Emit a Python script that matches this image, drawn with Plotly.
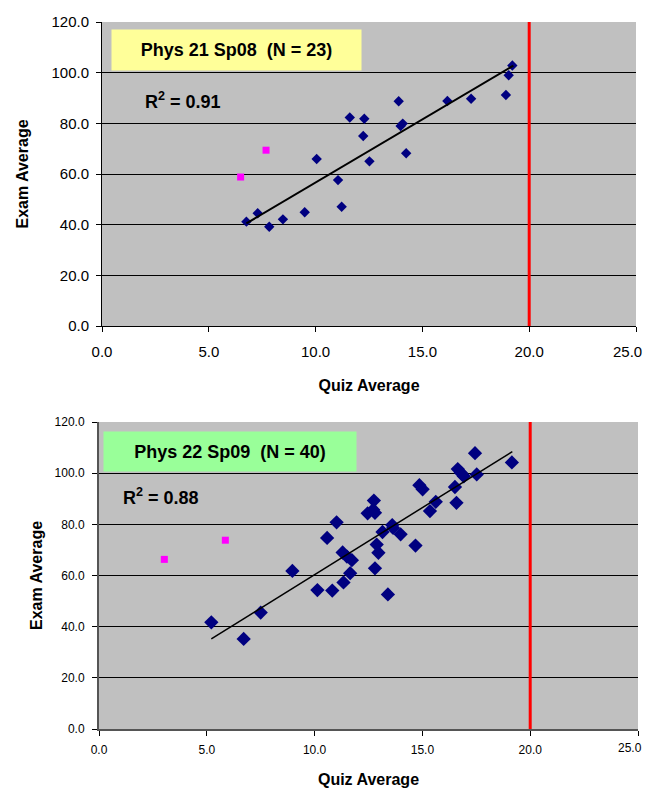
import plotly.graph_objects as go

# Phys 21 Sp08 -- regular students (blue diamonds) and two outliers (pink squares)
quiz21 = [19.21, 19.04, 18.91, 17.28, 16.17, 13.89, 11.60, 12.28, 12.23, 14.08,
          13.98, 14.24, 12.52, 10.05, 11.05, 11.22, 9.49, 8.47, 7.83, 7.29, 6.76]
exam21 = [102.8, 99.0, 91.2, 89.7, 88.8, 88.7, 82.3, 81.8, 75.0, 79.9,
          78.9, 68.2, 65.0, 65.9, 57.6, 47.1, 44.9, 42.1, 39.2, 44.5, 41.2]
quiz21_out = [7.68, 6.49]
exam21_out = [69.4, 58.8]
trend21_x = [6.76, 19.26]
trend21_y = [40.5, 102.8]

# Phys 22 Sp09
quiz22 = [17.44, 19.15, 16.64, 16.78, 16.92, 17.52, 14.86, 15.01, 16.51, 16.58,
          15.62, 15.35, 12.75, 12.72, 12.46, 12.80, 11.02, 10.58, 13.60, 13.64,
          13.15, 13.99, 14.68, 12.88, 12.96, 11.30, 11.50, 11.73, 12.80, 11.65,
          8.97, 11.34, 10.13, 10.82, 13.40, 7.50, 5.21, 6.71]
exam22 = [107.8, 104.2, 101.6, 100.2, 98.8, 99.5, 95.3, 93.7, 94.6, 88.4,
          88.8, 85.2, 89.3, 85.7, 84.3, 84.5, 80.8, 74.7, 79.7, 78.6,
          77.0, 76.1, 71.7, 72.1, 68.9, 69.0, 67.4, 66.0, 62.8, 60.9,
          61.8, 57.3, 54.3, 54.1, 52.6, 45.5, 41.7, 35.2]
quiz22_out = [5.86, 3.03]
exam22_out = [73.8, 66.3]
trend22_x = [5.21, 19.17]
trend22_y = [35.2, 108.4]

x_ticks = [0, 5, 10, 15, 20, 25]
y_ticks = [0, 20, 40, 60, 80, 100, 120]
cutoff = 20

FONT = "Liberation Sans, Arial, sans-serif"
NARROW = "Liberation Sans Narrow, Arial Narrow, Liberation Sans, sans-serif"

# page has an 8px body margin
PAD = 8
W, H = 652 - PAD, 796 - 2 * PAD


def fx(px):
    return (px - PAD) / W


def fy(py):
    return 1 - (py - PAD) / H


# last x tick label is drawn separately (nudged left so it isn't clipped at the page edge)
x_ticktext = [f"{v:.1f}" for v in x_ticks[:-1]] + [""]

fig = go.Figure()

# top chart
fig.add_trace(go.Scatter(x=quiz21, y=exam21, mode="markers", xaxis="x", yaxis="y",
                         marker=dict(symbol="diamond", size=8, color="#000080")))
fig.add_trace(go.Scatter(x=quiz21_out, y=exam21_out, mode="markers", xaxis="x", yaxis="y",
                         marker=dict(symbol="square", size=7, color="#FF00FF")))
fig.add_trace(go.Scatter(x=trend21_x, y=trend21_y, mode="lines", xaxis="x", yaxis="y",
                         line=dict(color="black", width=2)))

# bottom chart
fig.add_trace(go.Scatter(x=quiz22, y=exam22, mode="markers", xaxis="x2", yaxis="y2",
                         marker=dict(symbol="diamond", size=11, color="#000080")))
fig.add_trace(go.Scatter(x=quiz22_out, y=exam22_out, mode="markers", xaxis="x2", yaxis="y2",
                         marker=dict(symbol="square", size=7, color="#FF00FF")))
fig.add_trace(go.Scatter(x=trend22_x, y=trend22_y, mode="lines", xaxis="x2", yaxis="y2",
                         line=dict(color="black", width=1.5)))

axis_common = dict(showgrid=False, zeroline=False, ticks="outside", automargin=False,
                   ticklen=5, tickcolor="black", mirror=False, tickformat=".1f",
                   ticklabeloverflow="allow")

fig.update_layout(
    width=W, height=H,
    margin=dict(l=0, r=0, t=0, b=0),
    paper_bgcolor="white", plot_bgcolor="#C0C0C0",
    showlegend=False,
    font=dict(family=FONT, color="black"),
    xaxis=dict(axis_common, domain=[fx(102), fx(636)], range=[0, 25],
               tickvals=x_ticks, ticktext=x_ticktext,
               anchor="y", showline=True, linecolor="black", linewidth=1,
               tickfont=dict(size=15, family=FONT), ticklabelstandoff=7,
               title=dict(text="<b>Quiz Average</b>", font=dict(size=16), standoff=20)),
    yaxis=dict(axis_common, domain=[fy(326), fy(22)], range=[0, 120], tickvals=y_ticks,
               anchor="x", showline=True, linecolor="black", linewidth=1,
               showgrid=True, gridcolor="black", gridwidth=1,
               tickfont=dict(size=15, family=FONT), ticklabelstandoff=4,
               title=dict(text="<b>Exam Average</b>", font=dict(size=16), standoff=18)),
    xaxis2=dict(axis_common, domain=[fx(99), fx(638)], range=[0, 25],
                tickvals=x_ticks, ticktext=x_ticktext,
                anchor="y2", showline=True, linecolor="#555555", linewidth=2,
                tickfont=dict(size=12, family=NARROW), ticklabelstandoff=4,
                title=dict(text="<b>Quiz Average</b>", font=dict(size=16), standoff=28)),
    yaxis2=dict(axis_common, domain=[fy(729), fy(422)], range=[0, 120], tickvals=y_ticks,
                anchor="x2", showline=True, linecolor="#555555", linewidth=2,
                showgrid=True, gridcolor="black", gridwidth=1,
                tickfont=dict(size=12, family=NARROW), ticklabelstandoff=5,
                title=dict(text="<b>Exam Average</b>", font=dict(size=16), standoff=8)),
)

# last x tick labels
fig.add_annotation(xref="x", yref="y", x=x_ticks[-1], y=0, text=f"{x_ticks[-1]:.1f}",
                   showarrow=False, xanchor="right", yanchor="top", xshift=8, yshift=-15,
                   font=dict(size=15, family=FONT))
fig.add_annotation(xref="x2", yref="y2", x=x_ticks[-1], y=0, text=f"{x_ticks[-1]:.1f}",
                   showarrow=False, xanchor="right", yanchor="top", xshift=6, yshift=-10,
                   font=dict(size=12, family=NARROW))

# red cutoff lines at quiz average 20
for xr, yr in [("x", "y domain"), ("x2", "y2 domain")]:
    fig.add_shape(type="line", xref=xr, yref=yr, x0=cutoff, x1=cutoff, y0=0, y1=1,
                  line=dict(color="#FF0000", width=3))

# labels
fig.add_annotation(xref="paper", yref="paper", x=fx(111), y=fy(29),
                   xanchor="left", yanchor="top", width=247, height=38,
                   text="<b>Phys 21 Sp08 \u00a0(N = 23)</b>", showarrow=False,
                   bgcolor="#FFFF99", font=dict(size=18, family=FONT))
fig.add_annotation(xref="paper", yref="paper", x=fx(143), y=fy(100),
                   xanchor="left", yanchor="middle",
                   text="<b>R<sup>2</sup> = 0.91</b>", showarrow=False,
                   font=dict(size=18, family=FONT))
fig.add_annotation(xref="paper", yref="paper", x=fx(103), y=fy(431),
                   xanchor="left", yanchor="top", width=250, height=37,
                   text="<b>Phys 22 Sp09 \u00a0(N = 40)</b>", showarrow=False,
                   bgcolor="#99FF99", font=dict(size=18, family=FONT))
fig.add_annotation(xref="paper", yref="paper", x=fx(121), y=fy(496),
                   xanchor="left", yanchor="middle",
                   text="<b>R<sup>2</sup> = 0.88</b>", showarrow=False,
                   font=dict(size=18, family=FONT))

fig.write_html("out.html")
